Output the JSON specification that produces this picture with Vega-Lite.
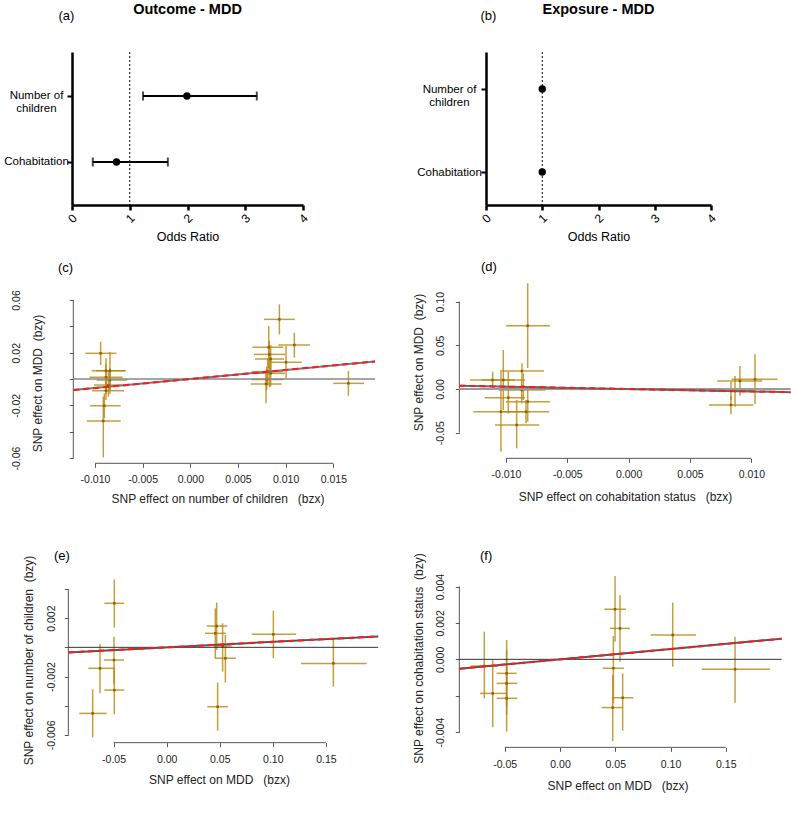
{
  "$schema": "https://vega.github.io/schema/vega-lite/v6.json",
  "autosize": {"type": "none"},
  "padding": {"left": 72, "top": 52, "right": 719, "bottom": 776},
  "background": "white",
  "columns": 2,
  "spacing": {"row": 45, "column": 114},
  "bounds": "flush",
  "align": "all",
  "datasets": {
    "a": [
      {"exposure": "Number of children", "or": 1.99, "lo": 1.23, "hi": 3.2},
      {"exposure": "Cohabitation", "or": 0.77, "lo": 0.36, "hi": 1.66}
    ],
    "b": [
      {"exposure": "Number of children", "or": 1.0, "lo": 0.99, "hi": 1.01},
      {"exposure": "Cohabitation", "or": 1.0, "lo": 0.99, "hi": 1.01}
    ],
    "c_pts": [
      {"x": 0.00934, "y": 0.0453, "xlo": 0.00773, "xhi": 0.01095, "ylo": 0.0339, "yhi": 0.0567},
      {"x": 0.01091, "y": 0.0258, "xlo": 0.00923, "xhi": 0.01256, "ylo": 0.0162, "yhi": 0.0352},
      {"x": 0.00822, "y": 0.0241, "xlo": 0.00651, "xhi": 0.00976, "ylo": 0.0081, "yhi": 0.0403},
      {"x": 0.00829, "y": 0.0187, "xlo": 0.00668, "xhi": 0.00993, "ylo": -0.0063, "yhi": 0.0291},
      {"x": 0.00843, "y": 0.0152, "xlo": 0.00679, "xhi": 0.00983, "ylo": 0.0043, "yhi": 0.0258},
      {"x": 0.01004, "y": 0.0127, "xlo": 0.00843, "xhi": 0.01168, "ylo": 0.0003, "yhi": 0.0251},
      {"x": 0.00811, "y": 0.0056, "xlo": 0.00644, "xhi": 0.00969, "ylo": -0.0046, "yhi": 0.0157},
      {"x": 0.00843, "y": 0.0043, "xlo": 0.00679, "xhi": 0.00993, "ylo": -0.0058, "yhi": 0.0144},
      {"x": 0.00801, "y": -0.0003, "xlo": 0.00644, "xhi": 0.00976, "ylo": -0.0084, "yhi": 0.0094},
      {"x": 0.00794, "y": -0.0038, "xlo": 0.00633, "xhi": 0.00958, "ylo": -0.0185, "yhi": 0.0063},
      {"x": 0.01658, "y": -0.0033, "xlo": 0.015, "xhi": 0.01822, "ylo": -0.0127, "yhi": 0.0061},
      {"x": -0.00941, "y": 0.0195, "xlo": -0.01101, "xhi": -0.00776, "ylo": 0.0106, "yhi": 0.0284},
      {"x": -0.00885, "y": 0.0063, "xlo": -0.01035, "xhi": -0.00685, "ylo": -0.0084, "yhi": 0.0157},
      {"x": -0.00843, "y": 0.0063, "xlo": -0.0099, "xhi": -0.00675, "ylo": -0.0114, "yhi": 0.0205},
      {"x": -0.00885, "y": 0.0013, "xlo": -0.01059, "xhi": -0.0071, "ylo": -0.0116, "yhi": 0.0114},
      {"x": -0.00843, "y": -0.0008, "xlo": -0.00983, "xhi": -0.00661, "ylo": -0.0084, "yhi": 0.0081},
      {"x": -0.0086, "y": -0.0046, "xlo": -0.0101, "xhi": -0.0072, "ylo": -0.0134, "yhi": 0.0068},
      {"x": -0.00885, "y": -0.0089, "xlo": -0.0103, "xhi": -0.00696, "ylo": -0.016, "yhi": -0.0003},
      {"x": -0.00902, "y": -0.0203, "xlo": -0.01052, "xhi": -0.00731, "ylo": -0.0299, "yhi": -0.0109},
      {"x": -0.00913, "y": -0.0319, "xlo": -0.01087, "xhi": -0.00731, "ylo": -0.0595, "yhi": -0.0134}
    ],
    "c_lines": [
      {"kind": "zero", "x": -0.012276, "x2": 0.01937, "y": 0, "y2": 0},
      {"kind": "fit", "x": -0.012276, "x2": 0.01937, "y": -0.008446, "y2": 0.013327}
    ],
    "c_axes": [
      {"x": -0.012276, "x2": -0.012276, "y": -0.06, "y2": 0.06},
      {"x": -0.01, "x2": 0.015, "y": -0.064029, "y2": -0.064029}
    ],
    "d_pts": [
      {"x": -0.00823, "y": 0.0725, "xlo": -0.01, "xhi": -0.00641, "ylo": 0.024, "yhi": 0.121},
      {"x": -0.0087, "y": 0.0206, "xlo": -0.01049, "xhi": -0.0069, "ylo": 0.0122, "yhi": 0.0294},
      {"x": -0.01109, "y": 0.0103, "xlo": -0.01293, "xhi": -0.00927, "ylo": 0.0008, "yhi": 0.0198},
      {"x": -0.01022, "y": 0.0103, "xlo": -0.01198, "xhi": -0.00845, "ylo": -0.024, "yhi": 0.0447},
      {"x": -0.00859, "y": 0.0027, "xlo": -0.01049, "xhi": -0.00669, "ylo": -0.0126, "yhi": 0.0179},
      {"x": -0.00872, "y": -0.0011, "xlo": -0.01057, "xhi": -0.00677, "ylo": -0.0164, "yhi": 0.0122},
      {"x": -0.00981, "y": -0.0099, "xlo": -0.01174, "xhi": -0.00845, "ylo": -0.0279, "yhi": 0.0198},
      {"x": -0.00823, "y": -0.0145, "xlo": -0.01, "xhi": -0.00641, "ylo": -0.0374, "yhi": 0.0027},
      {"x": -0.01041, "y": -0.026, "xlo": -0.01266, "xhi": -0.00804, "ylo": -0.0718, "yhi": 0.0198},
      {"x": -0.00837, "y": -0.026, "xlo": -0.01022, "xhi": -0.00647, "ylo": -0.0393, "yhi": -0.0126},
      {"x": -0.00913, "y": -0.0412, "xlo": -0.0109, "xhi": -0.00728, "ylo": -0.0679, "yhi": -0.0126},
      {"x": 0.0103, "y": 0.0111, "xlo": 0.00839, "xhi": 0.01214, "ylo": -0.0172, "yhi": 0.0397},
      {"x": 0.00907, "y": 0.0092, "xlo": 0.00723, "xhi": 0.01089, "ylo": -0.0076, "yhi": 0.0263},
      {"x": 0.00867, "y": -0.0023, "xlo": 0.00704, "xhi": 0.01016, "ylo": -0.0202, "yhi": 0.0149},
      {"x": 0.00834, "y": -0.0023, "xlo": 0.00663, "xhi": 0.00989, "ylo": -0.0126, "yhi": 0.0084},
      {"x": 0.00834, "y": -0.0183, "xlo": 0.00655, "xhi": 0.01016, "ylo": -0.029, "yhi": -0.008}
    ],
    "d_lines": [
      {"kind": "zero", "x": -0.013804, "x2": 0.0132, "y": 0, "y2": 0},
      {"kind": "fit", "x": -0.013804, "x2": 0.0132, "y": 0.003782, "y2": -0.003617}
    ],
    "d_axes": [
      {"x": -0.013804, "x2": -0.013804, "y": -0.05, "y2": 0.1},
      {"x": -0.01, "x2": 0.01, "y": -0.07939, "y2": -0.07939}
    ],
    "e_pts": [
      {"x": -0.0493, "y": 0.00302, "xlo": -0.0587, "xhi": -0.0399, "ylo": 0.00135, "yhi": 0.00466},
      {"x": 0.0471, "y": 0.00146, "xlo": 0.0377, "xhi": 0.0571, "ylo": -0.00018, "yhi": 0.00306},
      {"x": 0.0458, "y": 0.00096, "xlo": 0.0361, "xhi": 0.0559, "ylo": -0.00075, "yhi": 0.00267},
      {"x": 0.1005, "y": 0.00089, "xlo": 0.0801, "xhi": 0.1218, "ylo": -0.00075, "yhi": 0.00251},
      {"x": 0.0527, "y": 0.00009, "xlo": 0.044, "xhi": 0.0612, "ylo": -0.00167, "yhi": 0.00165},
      {"x": 0.0553, "y": -0.00075, "xlo": 0.0455, "xhi": 0.0653, "ylo": -0.00242, "yhi": 0.00085},
      {"x": -0.0496, "y": -0.00087, "xlo": -0.059, "xhi": -0.0402, "ylo": -0.00251, "yhi": 0.00073},
      {"x": -0.0628, "y": -0.00144, "xlo": -0.0738, "xhi": -0.0502, "ylo": -0.00315, "yhi": 0.00023},
      {"x": -0.0493, "y": -0.00293, "xlo": -0.0587, "xhi": -0.0399, "ylo": -0.00459, "yhi": -0.00133},
      {"x": -0.0697, "y": -0.00453, "xlo": -0.0823, "xhi": -0.0565, "ylo": -0.00617, "yhi": -0.00288},
      {"x": 0.048, "y": -0.00407, "xlo": 0.0383, "xhi": 0.0578, "ylo": -0.00571, "yhi": -0.00242},
      {"x": 0.157, "y": -0.0011, "xlo": 0.1265, "xhi": 0.1884, "ylo": -0.0027, "yhi": 0.00057}
    ],
    "e_lines": [
      {"kind": "zero", "x": -0.092621, "x2": 0.1992, "y": 0, "y2": 0},
      {"kind": "fit", "x": -0.092621, "x2": 0.1992, "y": -0.000349, "y2": 0.000751}
    ],
    "e_axes": [
      {"x": -0.092621, "x2": -0.092621, "y": -0.006, "y2": 0.004},
      {"x": -0.05, "x2": 0.15, "y": -0.0065371, "y2": -0.0065371}
    ],
    "f_pts": [
      {"x": 0.0498, "y": 0.00275, "xlo": 0.0401, "xhi": 0.0597, "ylo": 0.00097, "yhi": 0.00458},
      {"x": 0.0543, "y": 0.0017, "xlo": 0.0452, "xhi": 0.0633, "ylo": -0.00013, "yhi": 0.00353},
      {"x": 0.102, "y": 0.00134, "xlo": 0.082, "xhi": 0.1231, "ylo": -0.0004, "yhi": 0.00311},
      {"x": -0.0685, "y": -0.00037, "xlo": -0.0808, "xhi": -0.0558, "ylo": -0.00214, "yhi": 0.00152},
      {"x": -0.0609, "y": -0.00187, "xlo": -0.0724, "xhi": -0.0489, "ylo": -0.00373, "yhi": -0.00004},
      {"x": -0.0483, "y": -0.00077, "xlo": -0.0573, "xhi": -0.0392, "ylo": -0.0026, "yhi": 0.00106},
      {"x": -0.0483, "y": -0.00132, "xlo": -0.0573, "xhi": -0.0386, "ylo": -0.00306, "yhi": 0.00051},
      {"x": -0.0483, "y": -0.00214, "xlo": -0.0573, "xhi": -0.0386, "ylo": -0.00397, "yhi": -0.0004},
      {"x": 0.0483, "y": -0.00049, "xlo": 0.0386, "xhi": 0.0579, "ylo": -0.00242, "yhi": 0.00128},
      {"x": 0.0477, "y": -0.00265, "xlo": 0.0377, "xhi": 0.0573, "ylo": -0.00449, "yhi": -0.00086},
      {"x": 0.0567, "y": -0.00211, "xlo": 0.0468, "xhi": 0.0664, "ylo": -0.00392, "yhi": -0.00077},
      {"x": 0.1584, "y": -0.00055, "xlo": 0.1282, "xhi": 0.19, "ylo": -0.00238, "yhi": 0.00124}
    ],
    "f_lines": [
      {"kind": "zero", "x": -0.091101, "x2": 0.2006, "y": 0, "y2": 0},
      {"kind": "fit", "x": -0.091101, "x2": 0.2006, "y": -0.000515, "y2": 0.001133}
    ],
    "f_axes": [
      {"x": -0.091101, "x2": -0.091101, "y": -0.004, "y2": 0.004},
      {"x": -0.05, "x2": 0.15, "y": -0.004833, "y2": -0.004833}
    ]
  },
  "concat": [
    {
      "width": 231, "height": 153,
      "title": {"text": "Outcome - MDD", "anchor": "middle", "frame": "group", "offset": -8, "fontSize": 14.5, "fontWeight": "bold", "color": "#000"},
      "data": {"name": "a"},
      "layer": [
        {"mark": {"type": "rule", "color": "#000", "strokeWidth": 2},
         "encoding": {
           "x": {"field": "lo", "type": "quantitative", "scale": {"domain": [0, 4], "nice": false, "zero": false},
             "axis": {"values": [0, 1, 2, 3, 4], "format": "d", "title": "Odds Ratio", "labelAngle": -45, "labelAlign": "center", "labelBaseline": "middle", "labelPadding": 8, "labelFontSize": 12, "labelColor": "#000", "tickColor": "#000", "tickWidth": 2.5, "tickSize": 5, "domainColor": "#000", "domainWidth": 2.5, "titleFontSize": 12.5, "titleColor": "#000", "titleY": 31, "titleBaseline": "middle"}},
           "x2": {"field": "hi"},
           "y": {"field": "exposure", "type": "nominal",
             "scale": {"type": "point", "domain": ["Number of children", "Cohabitation"], "padding": 0.659, "align": 0.5057},
             "axis": {"title": "(a)", "titleAngle": 0, "titleX": -14, "titleY": -37, "titleAlign": "left", "titleBaseline": "middle", "titleFontSize": 13, "titleColor": "#000",
               "labelExpr": "datum.value == 'Number of children' ? ['Number of', 'children'] : datum.value",
               "labelAlign": "center", "labelBaseline": "middle", "labelPadding": 31, "labelFontSize": 11.5, "labelLineHeight": 13, "labelColor": "#000",
               "tickColor": "#000", "tickWidth": 2, "tickSize": 5, "domainColor": "#000", "domainWidth": 2.5}}
         }},
        {"mark": {"type": "tick", "orient": "vertical", "size": 9, "thickness": 2, "color": "#000"},
         "encoding": {"x": {"field": "lo", "type": "quantitative"}, "y": {"field": "exposure", "type": "nominal"}}},
        {"mark": {"type": "tick", "orient": "vertical", "size": 9, "thickness": 2, "color": "#000"},
         "encoding": {"x": {"field": "hi", "type": "quantitative"}, "y": {"field": "exposure", "type": "nominal"}}},
        {"mark": {"type": "circle", "size": 55, "color": "#000", "opacity": 1},
         "encoding": {"x": {"field": "or", "type": "quantitative"}, "y": {"field": "exposure", "type": "nominal"}}},
        {"data": {"values": [{"ref": 1}]}, "mark": {"type": "rule", "color": "#000", "strokeWidth": 1, "strokeDash": [2, 2]},
         "encoding": {"x": {"field": "ref", "type": "quantitative"}}}
      ]
    },
    {
      "width": 225, "height": 153,
      "title": {"text": "Exposure - MDD", "anchor": "middle", "frame": "group", "offset": -8, "fontSize": 14.5, "fontWeight": "bold", "color": "#000"},
      "data": {"name": "b"},
      "layer": [
        {"mark": {"type": "rule", "color": "#000", "strokeWidth": 2},
         "encoding": {
           "x": {"field": "lo", "type": "quantitative", "scale": {"domain": [0, 4], "nice": false, "zero": false},
             "axis": {"values": [0, 1, 2, 3, 4], "format": "d", "title": "Odds Ratio", "labelAngle": -45, "labelAlign": "center", "labelBaseline": "middle", "labelPadding": 8, "labelFontSize": 12, "labelColor": "#000", "tickColor": "#000", "tickWidth": 2.5, "tickSize": 5, "domainColor": "#000", "domainWidth": 2.5, "titleFontSize": 12.5, "titleColor": "#000", "titleY": 31, "titleBaseline": "middle"}},
           "x2": {"field": "hi"},
           "y": {"field": "exposure", "type": "nominal",
             "scale": {"type": "point", "domain": ["Number of children", "Cohabitation"], "padding": 0.4217, "align": 0.5286},
             "axis": {"title": "(b)", "titleAngle": 0, "titleX": -6, "titleY": -37, "titleAlign": "left", "titleBaseline": "middle", "titleFontSize": 13, "titleColor": "#000",
               "labelExpr": "datum.value == 'Number of children' ? ['Number of', 'children'] : datum.value",
               "labelAlign": "center", "labelBaseline": "middle", "labelPadding": 32, "labelFontSize": 11.5, "labelLineHeight": 13, "labelColor": "#000",
               "tickColor": "#000", "tickWidth": 2, "tickSize": 5, "domainColor": "#000", "domainWidth": 2.5}}
         }},
        {"mark": {"type": "circle", "size": 55, "color": "#000", "opacity": 1},
         "encoding": {"x": {"field": "or", "type": "quantitative"}, "y": {"field": "exposure", "type": "nominal"}}},
        {"data": {"values": [{"ref": 1}]}, "mark": {"type": "rule", "color": "#000", "strokeWidth": 1, "strokeDash": [2, 2]},
         "encoding": {"x": {"field": "ref", "type": "quantitative"}}}
      ]
    },
    {
      "width": 300, "height": 200,
      "title": {"text": "(c)", "anchor": "start", "frame": "group", "dx": -14, "offset": 15, "fontSize": 13, "fontWeight": "normal", "color": "#000"},
      "layer": [
        {"data": {"name": "c_axes"}, "mark": {"type": "rule", "color": "#555", "strokeWidth": 1, "clip": false},
         "encoding": {
           "x": {"field": "x", "type": "quantitative", "scale": {"domain": [-0.012413, 0.019056], "nice": false, "zero": false},
             "axis": {"values": [-0.01, -0.005, 0, 0.005, 0.01, 0.015], "tickCount": 50, "domain": false, "offset": -33.7, "labelPadding": 7,
               "labelExpr": "replace(format(datum.value, '.3f'), '−', '-')",
               "title": "SNP effect on number of children\u00a0\u00a0\u00a0(bzx)", "titleX": 145.5, "titleY": 35, "titleBaseline": "middle", "titleAlign": "center"}},
           "x2": {"field": "x2"},
           "y": {"field": "y", "type": "quantitative", "scale": {"domain": [-0.08962, 0.062278], "nice": false, "zero": false},
             "axis": {"values": [-0.06, -0.04, -0.02, 0, 0.02, 0.04, 0.06], "tickCount": 50, "domain": false, "offset": -1.3,
               "labelAngle": -90, "labelAlign": "center", "labelBaseline": "bottom", "labelPadding": 48,
               "labelExpr": "abs(datum.value) < 0.01 || abs(abs(datum.value) - 0.04) < 0.01 ? '' : replace(format(datum.value, '.2f'), '−', '-')",
               "title": "SNP effect on MDD\u00a0\u00a0(bzy)", "titleAngle": -90, "titleX": -36, "titleY": 86, "titleBaseline": "middle", "titleAlign": "center"}},
           "y2": {"field": "y2"}
         }},
        {"data": {"name": "c_pts"}, "mark": {"type": "rule", "color": "#B8860B", "opacity": 0.8, "strokeWidth": 1.5, "clip": false},
         "encoding": {"x": {"field": "xlo", "type": "quantitative"}, "x2": {"field": "xhi"}, "y": {"field": "y", "type": "quantitative"}}},
        {"data": {"name": "c_pts"}, "mark": {"type": "rule", "color": "#B8860B", "opacity": 0.8, "strokeWidth": 1.5, "clip": false},
         "encoding": {"x": {"field": "x", "type": "quantitative"}, "y": {"field": "ylo", "type": "quantitative"}, "y2": {"field": "yhi"}}},
        {"data": {"name": "c_pts"}, "mark": {"type": "square", "size": 6, "color": "#8B5E0A", "opacity": 1, "clip": false},
         "encoding": {"x": {"field": "x", "type": "quantitative"}, "y": {"field": "y", "type": "quantitative"}}},
        {"data": {"name": "c_lines"}, "transform": [{"filter": "datum.kind == 'zero'"}], "mark": {"type": "rule", "color": "#888", "strokeWidth": 1.5, "clip": false},
         "encoding": {"x": {"field": "x", "type": "quantitative"}, "x2": {"field": "x2"}, "y": {"field": "y", "type": "quantitative"}, "y2": {"field": "y2"}}},
        {"data": {"name": "c_lines"}, "transform": [{"filter": "datum.kind == 'fit'"}], "mark": {"type": "rule", "color": "#777", "strokeWidth": 2, "clip": false},
         "encoding": {"x": {"field": "x", "type": "quantitative"}, "x2": {"field": "x2"}, "y": {"field": "y", "type": "quantitative"}, "y2": {"field": "y2"}}},
        {"data": {"name": "c_lines"}, "transform": [{"filter": "datum.kind == 'fit'"}], "mark": {"type": "rule", "color": "#ff1a1a", "strokeWidth": 2, "strokeDash": [6, 4], "clip": false},
         "encoding": {"x": {"field": "x", "type": "quantitative"}, "x2": {"field": "x2"}, "y": {"field": "y", "type": "quantitative"}, "y2": {"field": "y2"}}}
      ]
    },
    {
      "width": 300, "height": 200,
      "title": {"text": "(d)", "anchor": "start", "frame": "group", "dx": -5, "offset": 9, "fontSize": 13, "fontWeight": "normal", "color": "#000"},
      "layer": [
        {"data": {"name": "d_axes"}, "mark": {"type": "rule", "color": "#555", "strokeWidth": 1, "clip": false},
         "encoding": {
           "x": {"field": "x", "type": "quantitative", "scale": {"domain": [-0.01163, 0.012826], "nice": false, "zero": false},
             "axis": {"values": [-0.01, -0.005, 0, 0.005, 0.01], "tickCount": 50, "domain": false, "offset": -38.7, "labelPadding": 7.5,
               "labelExpr": "replace(format(datum.value, '.3f'), '−', '-')",
               "title": "SNP effect on cohabitation status\u00a0\u00a0\u00a0(bzx)", "titleX": 139, "titleY": 38.4, "titleBaseline": "middle", "titleAlign": "center"}},
           "x2": {"field": "x2"},
           "y": {"field": "y", "type": "quantitative", "scale": {"domain": [-0.12367, 0.10535], "nice": false, "zero": false},
             "axis": {"values": [-0.05, 0, 0.05, 0.1], "tickCount": 50, "domain": false, "offset": 26.7,
               "labelAngle": -90, "labelAlign": "center", "labelBaseline": "bottom", "labelPadding": 10,
               "labelExpr": "replace(format(datum.value, '.2f'), '−', '-')",
               "title": "SNP effect on MDD\u00a0\u00a0(bzy)", "titleAngle": -90, "titleX": -41, "titleY": 65, "titleBaseline": "middle", "titleAlign": "center"}},
           "y2": {"field": "y2"}
         }},
        {"data": {"name": "d_pts"}, "mark": {"type": "rule", "color": "#B8860B", "opacity": 0.8, "strokeWidth": 1.5, "clip": false},
         "encoding": {"x": {"field": "xlo", "type": "quantitative"}, "x2": {"field": "xhi"}, "y": {"field": "y", "type": "quantitative"}}},
        {"data": {"name": "d_pts"}, "mark": {"type": "rule", "color": "#B8860B", "opacity": 0.8, "strokeWidth": 1.5, "clip": false},
         "encoding": {"x": {"field": "x", "type": "quantitative"}, "y": {"field": "ylo", "type": "quantitative"}, "y2": {"field": "yhi"}}},
        {"data": {"name": "d_pts"}, "mark": {"type": "square", "size": 6, "color": "#8B5E0A", "opacity": 1, "clip": false},
         "encoding": {"x": {"field": "x", "type": "quantitative"}, "y": {"field": "y", "type": "quantitative"}}},
        {"data": {"name": "d_lines"}, "transform": [{"filter": "datum.kind == 'zero'"}], "mark": {"type": "rule", "color": "#999", "strokeWidth": 2, "clip": false},
         "encoding": {"x": {"field": "x", "type": "quantitative"}, "x2": {"field": "x2"}, "y": {"field": "y", "type": "quantitative"}, "y2": {"field": "y2"}}},
        {"data": {"name": "d_lines"}, "transform": [{"filter": "datum.kind == 'fit'"}], "mark": {"type": "rule", "color": "#666", "strokeWidth": 2, "clip": false},
         "encoding": {"x": {"field": "x", "type": "quantitative"}, "x2": {"field": "x2"}, "y": {"field": "y", "type": "quantitative"}, "y2": {"field": "y2"}}},
        {"data": {"name": "d_lines"}, "transform": [{"filter": "datum.kind == 'fit'"}], "mark": {"type": "rule", "color": "#ff1a1a", "strokeWidth": 2, "strokeDash": [6, 4], "clip": false},
         "encoding": {"x": {"field": "x", "type": "quantitative"}, "x2": {"field": "x2"}, "y": {"field": "y", "type": "quantitative"}, "y2": {"field": "y2"}}}
      ]
    },
    {
      "width": 300, "height": 200,
      "title": {"text": "(e)", "anchor": "start", "frame": "group", "dx": -18, "offset": -21, "fontSize": 13, "fontWeight": "normal", "color": "#000"},
      "layer": [
        {"data": {"name": "e_axes"}, "mark": {"type": "rule", "color": "#555", "strokeWidth": 1, "clip": false},
         "encoding": {
           "x": {"field": "x", "type": "quantitative", "scale": {"domain": [-0.089167, 0.193406], "nice": false, "zero": false},
             "axis": {"values": [-0.05, 0, 0.05, 0.1, 0.15], "tickCount": 50, "domain": false, "offset": 0.67, "labelPadding": 8,
               "labelExpr": "replace(format(datum.value, '.2f'), '−', '-')",
               "title": "SNP effect on MDD\u00a0\u00a0\u00a0(bzx)", "titleX": 147, "titleY": 37.3, "titleBaseline": "middle", "titleAlign": "center"}},
           "x2": {"field": "x2"},
           "y": {"field": "y", "type": "quantitative", "scale": {"domain": [-0.0064914, 0.0072229], "nice": false, "zero": false},
             "axis": {"values": [-0.006, -0.004, -0.002, 0, 0.002, 0.004], "tickCount": 50, "domain": false, "offset": 3.67,
               "labelAngle": -90, "labelAlign": "center", "labelBaseline": "bottom", "labelPadding": 7.7,
               "labelExpr": "(abs(datum.value - 0.002) < 0.0005 || abs(datum.value + 0.002) < 0.0005 || abs(datum.value + 0.006) < 0.0005) ? replace(format(datum.value, '.3f'), '−', '-') : ''",
               "title": "SNP effect on number of children\u00a0\u00a0(bzy)", "titleAngle": -90, "titleX": -40, "titleY": 118, "titleBaseline": "middle", "titleAlign": "center"}},
           "y2": {"field": "y2"}
         }},
        {"data": {"name": "e_pts"}, "mark": {"type": "rule", "color": "#B8860B", "opacity": 0.8, "strokeWidth": 1.5, "clip": false},
         "encoding": {"x": {"field": "xlo", "type": "quantitative"}, "x2": {"field": "xhi"}, "y": {"field": "y", "type": "quantitative"}}},
        {"data": {"name": "e_pts"}, "mark": {"type": "rule", "color": "#B8860B", "opacity": 0.8, "strokeWidth": 1.5, "clip": false},
         "encoding": {"x": {"field": "x", "type": "quantitative"}, "y": {"field": "ylo", "type": "quantitative"}, "y2": {"field": "yhi"}}},
        {"data": {"name": "e_pts"}, "mark": {"type": "square", "size": 6, "color": "#8B5E0A", "opacity": 1, "clip": false},
         "encoding": {"x": {"field": "x", "type": "quantitative"}, "y": {"field": "y", "type": "quantitative"}}},
        {"data": {"name": "e_lines"}, "transform": [{"filter": "datum.kind == 'zero'"}], "mark": {"type": "rule", "color": "#333", "strokeWidth": 1, "clip": false},
         "encoding": {"x": {"field": "x", "type": "quantitative"}, "x2": {"field": "x2"}, "y": {"field": "y", "type": "quantitative"}, "y2": {"field": "y2"}}},
        {"data": {"name": "e_lines"}, "transform": [{"filter": "datum.kind == 'fit'"}], "mark": {"type": "rule", "color": "#555", "strokeWidth": 2, "clip": false},
         "encoding": {"x": {"field": "x", "type": "quantitative"}, "x2": {"field": "x2"}, "y": {"field": "y", "type": "quantitative"}, "y2": {"field": "y2"}}},
        {"data": {"name": "e_lines"}, "transform": [{"filter": "datum.kind == 'fit'"}], "mark": {"type": "rule", "color": "#ff1a1a", "strokeWidth": 2, "strokeDash": [6, 4], "clip": false},
         "encoding": {"x": {"field": "x", "type": "quantitative"}, "x2": {"field": "x2"}, "y": {"field": "y", "type": "quantitative"}, "y2": {"field": "y2"}}}
      ]
    },
    {
      "width": 300, "height": 200,
      "title": {"text": "(f)", "anchor": "start", "frame": "group", "dx": -6, "offset": -21, "fontSize": 13, "fontWeight": "normal", "color": "#000"},
      "layer": [
        {"data": {"name": "f_axes"}, "mark": {"type": "rule", "color": "#555", "strokeWidth": 1, "clip": false},
         "encoding": {
           "x": {"field": "x", "type": "quantitative", "scale": {"domain": [-0.066969, 0.204525], "nice": false, "zero": false},
             "axis": {"values": [-0.05, 0, 0.05, 0.1, 0.15], "tickCount": 50, "domain": false, "offset": 5.33, "labelPadding": 7.7,
               "labelExpr": "replace(format(datum.value, '.2f'), '−', '-')",
               "title": "SNP effect on MDD\u00a0\u00a0\u00a0(bzx)", "titleX": 131.5, "titleY": 37.7, "titleBaseline": "middle", "titleAlign": "center"}},
           "x2": {"field": "x2"},
           "y": {"field": "y", "type": "quantitative", "scale": {"domain": [-0.0045401, 0.0064441], "nice": false, "zero": false},
             "axis": {"values": [-0.004, -0.002, 0, 0.002, 0.004], "tickCount": 50, "domain": false, "offset": 26.67,
               "labelAngle": -90, "labelAlign": "center", "labelBaseline": "bottom", "labelPadding": 10,
               "labelExpr": "abs(datum.value + 0.002) < 0.0005 ? '' : replace(format(datum.value, '.3f'), '−', '-')",
               "title": "SNP effect on cohabitation status\u00a0\u00a0(bzy)", "titleAngle": -90, "titleX": -41, "titleY": 116, "titleBaseline": "middle", "titleAlign": "center"}},
           "y2": {"field": "y2"}
         }},
        {"data": {"name": "f_pts"}, "mark": {"type": "rule", "color": "#B8860B", "opacity": 0.8, "strokeWidth": 1.5, "clip": false},
         "encoding": {"x": {"field": "xlo", "type": "quantitative"}, "x2": {"field": "xhi"}, "y": {"field": "y", "type": "quantitative"}}},
        {"data": {"name": "f_pts"}, "mark": {"type": "rule", "color": "#B8860B", "opacity": 0.8, "strokeWidth": 1.5, "clip": false},
         "encoding": {"x": {"field": "x", "type": "quantitative"}, "y": {"field": "ylo", "type": "quantitative"}, "y2": {"field": "yhi"}}},
        {"data": {"name": "f_pts"}, "mark": {"type": "square", "size": 6, "color": "#8B5E0A", "opacity": 1, "clip": false},
         "encoding": {"x": {"field": "x", "type": "quantitative"}, "y": {"field": "y", "type": "quantitative"}}},
        {"data": {"name": "f_lines"}, "transform": [{"filter": "datum.kind == 'zero'"}], "mark": {"type": "rule", "color": "#333", "strokeWidth": 1, "clip": false},
         "encoding": {"x": {"field": "x", "type": "quantitative"}, "x2": {"field": "x2"}, "y": {"field": "y", "type": "quantitative"}, "y2": {"field": "y2"}}},
        {"data": {"name": "f_lines"}, "transform": [{"filter": "datum.kind == 'fit'"}], "mark": {"type": "rule", "color": "#555", "strokeWidth": 2, "clip": false},
         "encoding": {"x": {"field": "x", "type": "quantitative"}, "x2": {"field": "x2"}, "y": {"field": "y", "type": "quantitative"}, "y2": {"field": "y2"}}},
        {"data": {"name": "f_lines"}, "transform": [{"filter": "datum.kind == 'fit'"}], "mark": {"type": "rule", "color": "#ff1a1a", "strokeWidth": 2, "strokeDash": [6, 4], "clip": false},
         "encoding": {"x": {"field": "x", "type": "quantitative"}, "x2": {"field": "x2"}, "y": {"field": "y", "type": "quantitative"}, "y2": {"field": "y2"}}}
      ]
    }
  ],
  "config": {
    "view": {"stroke": null},
    "font": "Liberation Sans",
    "axis": {"grid": false, "labelFont": "Liberation Sans", "titleFont": "Liberation Sans", "labelColor": "#222", "titleColor": "#222", "labelFontSize": 10.5, "titleFontSize": 12, "titleFontWeight": "normal", "tickColor": "#555", "tickSize": 4, "labelOverlap": false, "labelFlush": false, "labelBound": false},
    "title": {"font": "Liberation Sans", "color": "#111"}
  }
}
